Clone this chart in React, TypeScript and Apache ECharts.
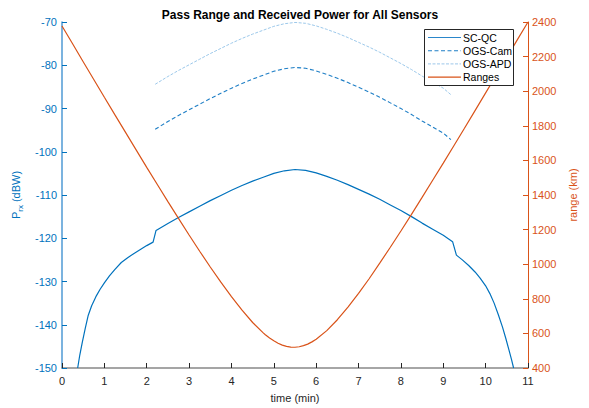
import React, { useEffect, useRef } from "react";
import * as echarts from "echarts";

// SC-QC received power (dBW)
const scTime = [0.37, 0.42, 0.48, 0.55, 0.62, 0.7, 0.8, 0.9, 1.0, 1.12, 1.25, 1.4, 1.55, 1.7, 1.85, 2.0, 2.15,
  2.22, 2.5, 2.75, 3.0, 3.25, 3.5, 3.75, 4.0, 4.25, 4.5, 4.75, 5.0, 5.25, 5.5, 5.75,
  6.0, 6.25, 6.5, 6.75, 7.0, 7.25, 7.5, 7.75, 8.0, 8.25, 8.5, 8.75, 9.0, 9.22,
  9.31, 9.45, 9.6, 9.75, 9.87, 10.0, 10.1, 10.2, 10.3, 10.4, 10.48, 10.55, 10.61, 10.66];
const scPower = [-150, -147, -144, -140.8, -137.8, -135.6, -133.5, -131.8, -130.3, -128.7, -127.2, -125.6, -124.5, -123.5, -122.6, -121.7, -120.9,
  -118.2, -116.6, -115.2, -113.9, -112.6, -111.3, -110.1, -108.9, -107.8, -106.8, -105.9, -105.0, -104.4, -104.1, -104.3,
  -104.9, -105.7, -106.6, -107.6, -108.7, -109.8, -111.0, -112.3, -113.6, -115.0, -116.5, -117.9, -119.3, -120.8,
  -123.9, -125.0, -126.3, -127.8, -129.2, -131.0, -132.8, -135.0, -137.7, -140.6, -143.3, -145.8, -148.0, -150];

// OGS sensors (dBW)
const ogsTime = [2.2, 2.5, 2.75, 3.0, 3.25, 3.5, 3.75, 4.0, 4.25, 4.5, 4.75, 5.0, 5.25, 5.5, 5.75,
  6.0, 6.25, 6.5, 6.75, 7.0, 7.25, 7.5, 7.75, 8.0, 8.25, 8.5, 8.75, 9.0, 9.18];
const camPower = [-94.8, -93.0, -91.6, -90.3, -89.0, -87.7, -86.5, -85.3, -84.2, -83.2, -82.3, -81.4, -80.8, -80.5, -80.7,
  -81.3, -82.1, -83.0, -84.0, -85.1, -86.2, -87.4, -88.7, -90.0, -91.4, -92.9, -94.3, -95.7, -97.2];
const apdPower = [-84.4, -82.6, -81.2, -79.9, -78.6, -77.3, -76.1, -74.9, -73.8, -72.8, -71.9, -71.0, -70.4, -70.1, -70.3,
  -70.9, -71.7, -72.6, -73.6, -74.7, -75.8, -77.0, -78.3, -79.6, -81.0, -82.5, -83.9, -85.3, -86.8];

// Pass range (km)
const rangeTime = [0, 0.25, 0.5, 0.75, 1, 1.25, 1.5, 1.75, 2, 2.25, 2.5, 2.75, 3, 3.25, 3.5, 3.75, 4, 4.25, 4.5, 4.75,
  4.8, 4.9, 5.0, 5.1, 5.2, 5.3, 5.4, 5.5, 5.6, 5.7, 5.8, 5.9, 6.0, 6.25, 6.5, 6.75, 7, 7.25, 7.5, 7.75, 8, 8.25,
  8.5, 8.75, 9, 9.25, 9.5, 9.75, 10, 10.25, 10.5, 10.75, 11];
const rangeKm = [2377, 2274, 2170, 2068, 1965, 1863, 1762, 1661, 1560, 1461, 1362, 1265, 1169, 1075, 984, 896, 812, 734, 663, 603,
  592, 573, 557, 543, 532, 525, 521, 520, 523, 529, 538, 551, 566, 616, 679, 752, 831, 916, 1006, 1098, 1192, 1288,
  1386, 1485, 1584, 1685, 1786, 1888, 1990, 2092, 2195, 2298, 2400];

const legendNames = ["SC-QC", "OGS-Cam", "OGS-APD", "Ranges"];

const FONT = "Liberation Sans, Arial, Helvetica, sans-serif";
const BLUE = "#0072BD";
const CAM = "#1f7fc6";
const APD = "#9cc8ea";
const ORANGE = "#D95319";
const GRAY = "#262626";

function pairs(xs: number[], ys: number[]) {
  return xs.map((x, i) => [x, ys[i]]);
}

export default function App() {
  const ref = useRef<HTMLDivElement>(null);
  useEffect(() => {
    if (!ref.current) return;
    const chart = echarts.init(ref.current, null, { renderer: "svg" });
    const legendStyles: any[] = [
      { stroke: "#2a86ca", lineWidth: 1.2, fill: "none" },
      { stroke: CAM, lineDash: [4, 2.5], lineWidth: 1.1, fill: "none" },
      { stroke: APD, lineDash: [3, 1.5], lineWidth: 1, fill: "none" },
      { stroke: ORANGE, lineWidth: 1.2, fill: "none" },
    ];
    const lx = 424, ly = 29, rowH = 13.2;
    const legendGraphics: any[] = [
      {
        type: "rect",
        shape: { x: lx + 0.5, y: ly + 0.5, width: 89, height: 56 },
        style: { fill: "#ffffff", stroke: GRAY, lineWidth: 1 },
        z: 100,
      },
    ];
    legendNames.forEach((name, i) => {
      const cy = ly + 8.5 + i * rowH;
      legendGraphics.push({
        type: "line",
        shape: { x1: lx + 4, y1: cy, x2: lx + 37, y2: cy },
        style: legendStyles[i],
        z: 101,
      });
      legendGraphics.push({
        type: "text",
        x: lx + 39,
        y: cy,
        style: {
          text: name,
          fontSize: 10.5,
          fontFamily: FONT,
          fill: "#000",
          verticalAlign: "middle",
          align: "left",
        },
        z: 101,
      });
    });

    chart.setOption({
      animation: false,
      backgroundColor: "#ffffff",
      textStyle: { fontFamily: FONT },
      title: {
        text: "Pass Range and Received Power for All Sensors",
        left: 295,
        textAlign: "center",
        top: 4,
        textStyle: { fontSize: 12, fontWeight: "bold", color: "#000", fontFamily: FONT },
      },
      graphic: legendGraphics,
      grid: { left: 62, right: 61, top: 22, bottom: 38, containLabel: false },
      xAxis: {
        type: "value",
        min: 0,
        max: 11,
        interval: 1,
        name: "time (min)",
        nameLocation: "middle",
        nameGap: 24,
        nameTextStyle: { fontSize: 11, color: GRAY, fontFamily: FONT },
        axisLine: { show: true, lineStyle: { color: "#888888", width: 1.5 } },
        axisTick: { show: true, inside: true, length: 5, lineStyle: { color: GRAY } },
        axisLabel: { fontSize: 11, color: GRAY, margin: 7, fontFamily: FONT },
        splitLine: { show: false },
      },
      yAxis: [
        {
          type: "value",
          min: -150,
          max: -70,
          interval: 10,
          position: "left",
          name: "{a|P}{b|rx}{a| (dBW)}",
          nameLocation: "middle",
          nameGap: 35,
          nameRotate: 90,
          nameTextStyle: {
            color: BLUE,
            fontFamily: FONT,
            rich: {
              a: { fontSize: 11, color: BLUE, fontFamily: FONT, lineHeight: 16, verticalAlign: "middle" },
              b: { fontSize: 8, color: BLUE, fontFamily: FONT, lineHeight: 16, verticalAlign: "bottom" },
            },
          },
          axisLine: { show: true, lineStyle: { color: "#4f9ad4", width: 1.5 } },
          axisTick: { show: true, inside: true, length: 5, lineStyle: { color: BLUE } },
          axisLabel: { fontSize: 11, color: BLUE, margin: 5, fontFamily: FONT },
          splitLine: { show: false },
        },
        {
          type: "value",
          min: 400,
          max: 2400,
          interval: 200,
          position: "right",
          name: "range (km)",
          nameLocation: "middle",
          nameGap: 34,
          nameRotate: 90,
          nameTextStyle: { fontSize: 11, color: ORANGE, fontFamily: FONT },
          axisLine: { show: true, lineStyle: { color: ORANGE, width: 1 } },
          axisTick: { show: true, inside: true, length: 5, lineStyle: { color: ORANGE } },
          axisLabel: { fontSize: 11, color: ORANGE, margin: 4, fontFamily: FONT, formatter: (v: number) => String(v) },
          splitLine: { show: false },
        },
      ],
      series: [
        {
          name: "SC-QC",
          type: "line",
          yAxisIndex: 0,
          symbol: "none",
          data: pairs(scTime, scPower),
          lineStyle: { color: BLUE, width: 1.2 },
          itemStyle: { color: BLUE },
        },
        {
          name: "OGS-Cam",
          type: "line",
          yAxisIndex: 0,
          symbol: "none",
          data: pairs(ogsTime, camPower),
          lineStyle: { color: CAM, width: 1.1, type: [4, 2.5] },
          itemStyle: { color: CAM },
        },
        {
          name: "OGS-APD",
          type: "line",
          yAxisIndex: 0,
          symbol: "none",
          data: pairs(ogsTime, apdPower),
          lineStyle: { color: APD, width: 1, type: [3, 1.5] },
          itemStyle: { color: APD },
        },
        {
          name: "Ranges",
          type: "line",
          yAxisIndex: 1,
          symbol: "none",
          data: pairs(rangeTime, rangeKm),
          lineStyle: { color: ORANGE, width: 1.2 },
          itemStyle: { color: ORANGE },
        },
      ],
    });
    return () => chart.dispose();
  }, []);
  return (
    <div
      ref={ref}
      style={{ position: "absolute", left: 0, top: 0, width: 589, height: 408 }}
    />
  );
}
